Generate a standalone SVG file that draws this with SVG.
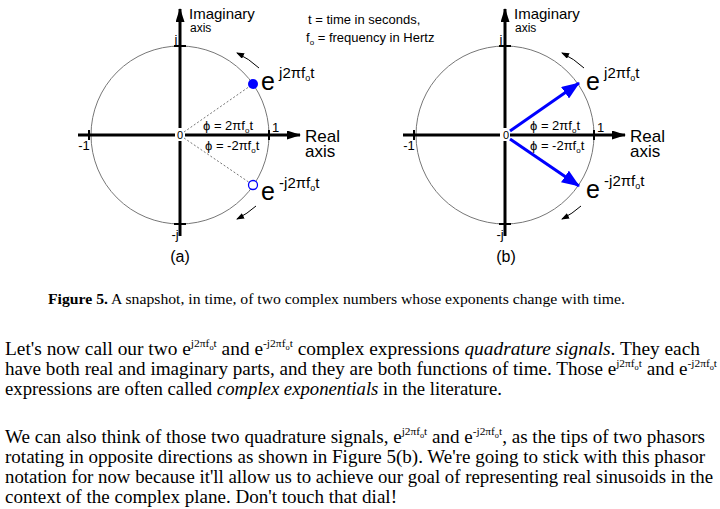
<svg xmlns="http://www.w3.org/2000/svg" width="720" height="509" viewBox="0 0 720 509">
<style>
.ax{stroke:#000;stroke-width:3;fill:none}
.tk{stroke:#000;stroke-width:2}
.c{fill:none;stroke:#777;stroke-width:1}
.s{font-family:"Liberation Sans",Arial,sans-serif;fill:#000}
.t{font-family:"Liberation Serif","Times New Roman",serif;fill:#000}
.arc{fill:none;stroke:#000;stroke-width:1}
.dot{stroke:#777;stroke-width:1;stroke-dasharray:2 2}
.ph{stroke:#00f;stroke-width:3}
</style>
<defs>
<marker id="ah" markerWidth="14" markerHeight="9" refX="13" refY="4.5" orient="auto" markerUnits="userSpaceOnUse"><path d="M0,0 L14,4.5 L0,9 Z" fill="#000"/></marker>
<marker id="sm" markerWidth="8" markerHeight="6" refX="7" refY="3" orient="auto" markerUnits="userSpaceOnUse"><path d="M0,0 L8,3 L0,6 Z" fill="#000"/></marker>
<marker id="bh" markerWidth="18" markerHeight="14" refX="17" refY="7" orient="auto" markerUnits="userSpaceOnUse"><path d="M0,0 L18,7 L0,14 Z" fill="#00f"/></marker>
</defs>

<g id="diagram-a">
<circle class="c" cx="180" cy="135" r="89"/>
<line class="ax" x1="78" y1="135" x2="300" y2="135" marker-end="url(#ah)"/>
<line class="ax" x1="180" y1="236" x2="180" y2="9" marker-end="url(#ah)"/>
<line class="tk" x1="89" y1="130" x2="89" y2="140"/>
<line class="tk" x1="269" y1="130" x2="269" y2="140"/>
<line class="tk" x1="174" y1="46" x2="186" y2="46"/>
<line class="tk" x1="174" y1="224" x2="186" y2="224"/>
<rect x="175" y="128" width="10" height="13" fill="#fff"/>
<text class="s" x="180" y="139" font-size="11" text-anchor="middle">0</text>
<text class="s" x="84" y="150" font-size="13" text-anchor="middle">-1</text>
<text class="s" x="272" y="132" font-size="13">1</text>
<text class="s" x="176" y="44" font-size="13" text-anchor="middle">j</text>
<text class="s" x="175" y="239" font-size="13" text-anchor="middle">-j</text>
<text class="s" x="189" y="19" font-size="15">Imaginary</text>
<text class="s" x="190" y="32" font-size="12">axis</text>
<text class="s" x="305" y="142" font-size="17">Real</text>
<text class="s" x="305" y="157" font-size="17">axis</text>
<line class="dot" x1="184" y1="132" x2="253" y2="84"/>
<line class="dot" x1="184" y1="138" x2="253" y2="185"/>
<circle cx="253" cy="84" r="5" fill="#00f"/>
<circle cx="253" cy="185" r="4.5" fill="#fff" stroke="#00f" stroke-width="1.3"/>
<path class="arc" d="M259,68 A89,89 0 0 0 237,53" marker-end="url(#sm)"/>
<path class="arc" d="M256,206 A89,89 0 0 1 237,219" marker-end="url(#sm)"/>
<text class="s" x="261" y="90" font-size="25">e<tspan font-size="15" dy="-12"> j2πf</tspan><tspan font-size="9" dy="3">o</tspan><tspan font-size="15" dy="-3">t</tspan></text>
<text class="s" x="261" y="200" font-size="25">e<tspan font-size="15" dy="-12"> -j2πf</tspan><tspan font-size="9" dy="3">o</tspan><tspan font-size="15" dy="-3">t</tspan></text>
<text class="s" x="203" y="130" font-size="13">ϕ = 2πf<tspan font-size="8" dy="3">o</tspan><tspan dy="-3">t</tspan></text>
<text class="s" x="205" y="150" font-size="13">ϕ = -2πf<tspan font-size="8" dy="3">o</tspan><tspan dy="-3">t</tspan></text>
<text class="s" x="180" y="262" font-size="16" text-anchor="middle">(a)</text>
</g>

<g id="legend">
<text class="s" x="308" y="24" font-size="13">t = time in seconds,</text>
<text class="s" x="306" y="42" font-size="13">f<tspan font-size="8" dy="3">o</tspan><tspan dy="-3"> = frequency in Hertz</tspan></text>
</g>

<g id="diagram-b">
<circle class="c" cx="505" cy="135" r="89"/>
<line class="ax" x1="403" y1="135" x2="625" y2="135" marker-end="url(#ah)"/>
<line class="ax" x1="505" y1="236" x2="505" y2="9" marker-end="url(#ah)"/>
<line class="tk" x1="414" y1="130" x2="414" y2="140"/>
<line class="tk" x1="594" y1="130" x2="594" y2="140"/>
<line class="tk" x1="499" y1="46" x2="511" y2="46"/>
<line class="tk" x1="499" y1="224" x2="511" y2="224"/>
<rect x="500" y="128" width="10" height="13" fill="#fff"/>
<text class="s" x="506" y="139" font-size="11" text-anchor="middle">0</text>
<text class="s" x="409" y="150" font-size="13" text-anchor="middle">-1</text>
<text class="s" x="597" y="132" font-size="13">1</text>
<text class="s" x="501" y="44" font-size="13" text-anchor="middle">j</text>
<text class="s" x="500" y="239" font-size="13" text-anchor="middle">-j</text>
<text class="s" x="514" y="19" font-size="15">Imaginary</text>
<text class="s" x="515" y="32" font-size="12">axis</text>
<text class="s" x="630" y="142" font-size="17">Real</text>
<text class="s" x="630" y="157" font-size="17">axis</text>
<line class="ph" x1="510" y1="131" x2="579" y2="83" marker-end="url(#bh)"/>
<line class="ph" x1="510" y1="139" x2="579" y2="186" marker-end="url(#bh)"/>
<path class="arc" d="M584,68 A89,89 0 0 0 562,53" marker-end="url(#sm)"/>
<path class="arc" d="M581,206 A89,89 0 0 1 562,219" marker-end="url(#sm)"/>
<text class="s" x="586" y="90" font-size="25">e<tspan font-size="15" dy="-12"> j2πf</tspan><tspan font-size="9" dy="3">o</tspan><tspan font-size="15" dy="-3">t</tspan></text>
<text class="s" x="586" y="198" font-size="25">e<tspan font-size="15" dy="-12"> -j2πf</tspan><tspan font-size="9" dy="3">o</tspan><tspan font-size="15" dy="-3">t</tspan></text>
<text class="s" x="530" y="130" font-size="13">ϕ = 2πf<tspan font-size="8" dy="3">o</tspan><tspan dy="-3">t</tspan></text>
<text class="s" x="530" y="150" font-size="13">ϕ = -2πf<tspan font-size="8" dy="3">o</tspan><tspan dy="-3">t</tspan></text>
<text class="s" x="506" y="262" font-size="16" text-anchor="middle">(b)</text>
</g>

<g id="text">
<text class="t" x="48" y="304" font-size="14.5" textLength="577" lengthAdjust="spacingAndGlyphs"><tspan font-weight="bold">Figure 5.</tspan>  A snapshot, in time, of two complex numbers whose exponents change with time.</text>
<text class="t" x="5" y="355" font-size="18.5" textLength="695" lengthAdjust="spacingAndGlyphs">Let's now call our two e<tspan font-size="11" dy="-8">j2πf</tspan><tspan font-size="8" dy="3">o</tspan><tspan font-size="11" dy="-3">t</tspan><tspan dy="8"> and e</tspan><tspan font-size="11" dy="-8">-j2πf</tspan><tspan font-size="8" dy="3">o</tspan><tspan font-size="11" dy="-3">t</tspan><tspan dy="8"> complex expressions  </tspan><tspan font-style="italic">quadrature signals</tspan>.  They each</text>
<text class="t" x="5" y="375" font-size="18.5" textLength="712" lengthAdjust="spacingAndGlyphs">have both real and imaginary parts, and they are both functions of time.  Those e<tspan font-size="11" dy="-8">j2πf</tspan><tspan font-size="8" dy="3">o</tspan><tspan font-size="11" dy="-3">t</tspan><tspan dy="8"> and e</tspan><tspan font-size="11" dy="-8">-j2πf</tspan><tspan font-size="8" dy="3">o</tspan><tspan font-size="11" dy="-3">t</tspan></text>
<text class="t" x="5" y="395" font-size="18.5" textLength="497" lengthAdjust="spacingAndGlyphs">expressions are often called <tspan font-style="italic">complex exponentials</tspan> in the literature.</text>
<text class="t" x="5" y="443" font-size="18.5" textLength="700" lengthAdjust="spacingAndGlyphs">We can also think of those two quadrature signals, e<tspan font-size="11" dy="-8">j2πf</tspan><tspan font-size="8" dy="3">o</tspan><tspan font-size="11" dy="-3">t</tspan><tspan dy="8"> and e</tspan><tspan font-size="11" dy="-8">-j2πf</tspan><tspan font-size="8" dy="3">o</tspan><tspan font-size="11" dy="-3">t</tspan><tspan dy="8">, as the tips of two phasors</tspan></text>
<text class="t" x="5" y="463" font-size="18.5" textLength="700" lengthAdjust="spacingAndGlyphs">rotating in opposite directions as shown in Figure 5(b).  We're going to stick with this phasor</text>
<text class="t" x="5" y="483" font-size="18.5" textLength="708" lengthAdjust="spacingAndGlyphs">notation for now because it'll allow us to achieve our goal of representing real sinusoids in the</text>
<text class="t" x="5" y="503" font-size="18.5" textLength="392" lengthAdjust="spacingAndGlyphs">context of the complex plane.  Don't touch that dial!</text>
</g>
</svg>
